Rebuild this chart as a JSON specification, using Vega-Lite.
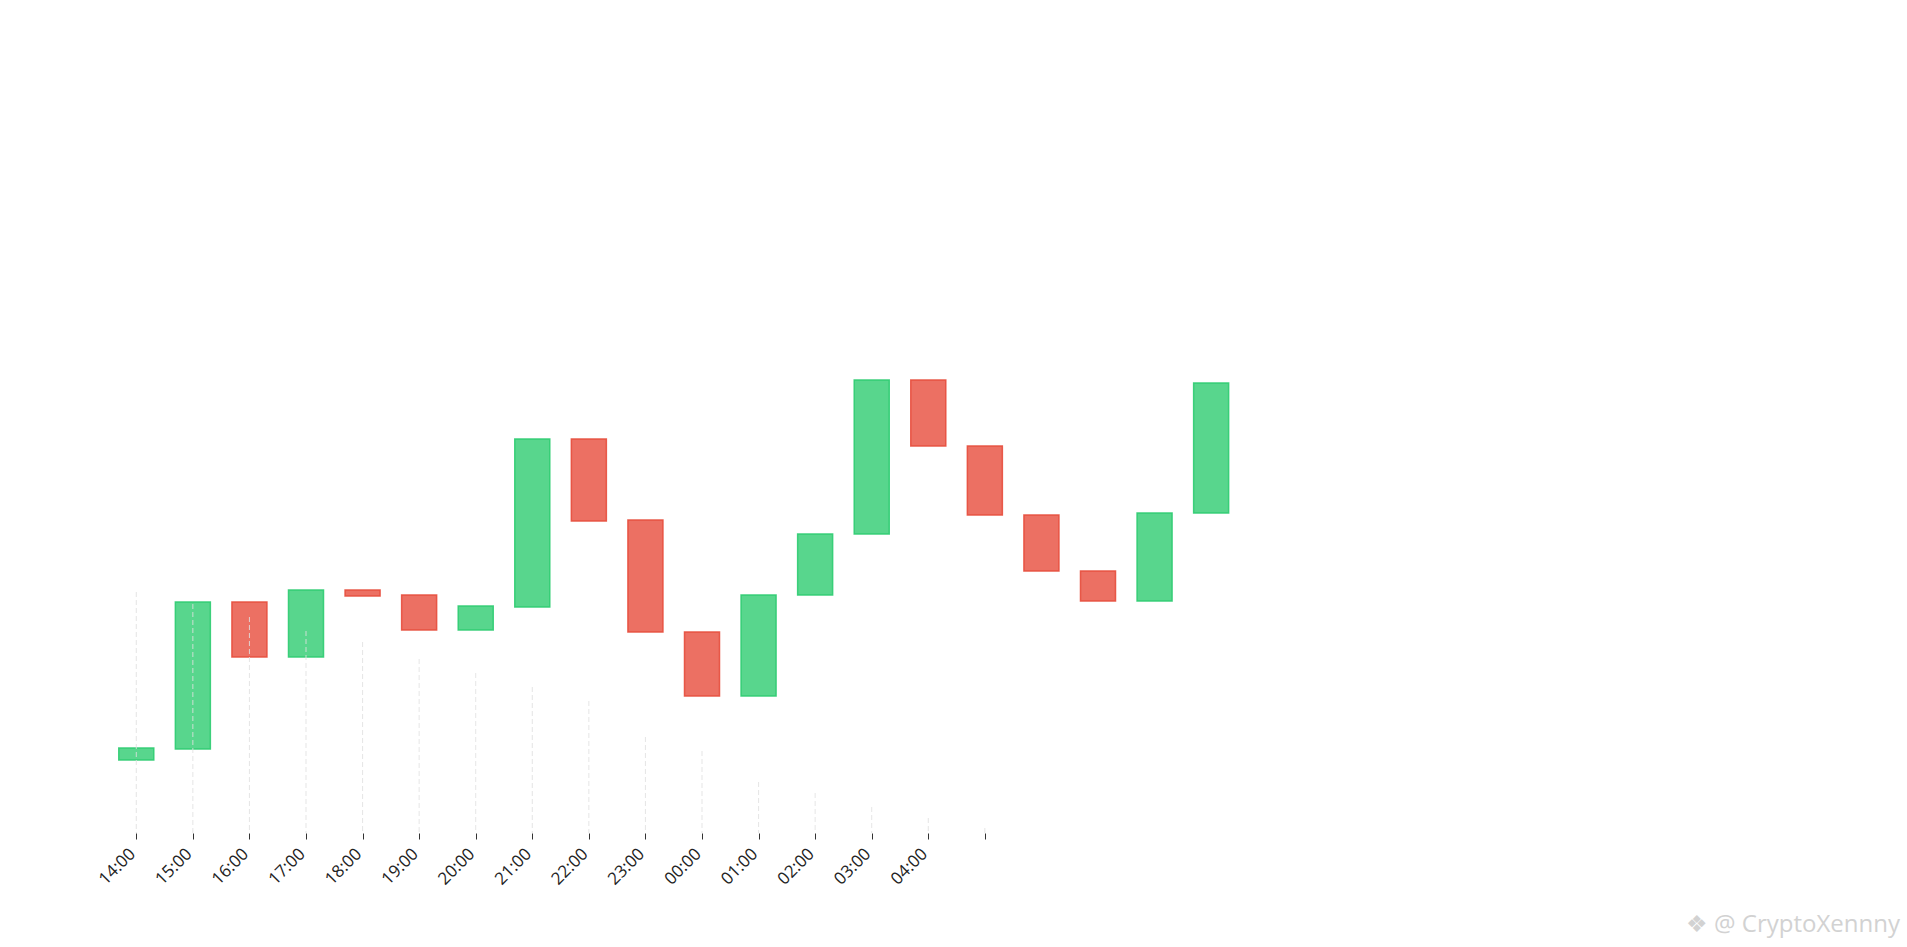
{
  "$schema": "https://vega.github.io/schema/vega-lite/v6.json",
  "width": 1792,
  "height": 833,
  "autosize": {"type": "none"},
  "padding": {"left": 103, "top": 0, "right": 12, "bottom": 114},
  "background": "white",
  "config": {"view": {"stroke": null}},
  "title": {
    "text": "❖ @ CryptoXennny",
    "orient": "bottom",
    "anchor": "end",
    "font": "Open Sans",
    "fontSize": 24,
    "fontWeight": "normal",
    "color": "#d2d2d2",
    "offset": 26,
    "dx": 5
  },
  "datasets": {
    "bars": [
      {"t": "2023-09-01T14:00:00Z", "open": 73, "close": 85},
      {"t": "2023-09-01T15:00:00Z", "open": 84, "close": 231},
      {"t": "2023-09-01T16:00:00Z", "open": 231, "close": 176},
      {"t": "2023-09-01T17:00:00Z", "open": 176, "close": 243},
      {"t": "2023-09-01T18:00:00Z", "open": 243, "close": 237},
      {"t": "2023-09-01T19:00:00Z", "open": 238, "close": 203},
      {"t": "2023-09-01T20:00:00Z", "open": 203, "close": 227},
      {"t": "2023-09-01T21:00:00Z", "open": 226, "close": 394},
      {"t": "2023-09-01T22:00:00Z", "open": 394, "close": 312},
      {"t": "2023-09-01T23:00:00Z", "open": 313, "close": 201},
      {"t": "2023-09-02T00:00:00Z", "open": 201, "close": 137},
      {"t": "2023-09-02T01:00:00Z", "open": 137, "close": 238},
      {"t": "2023-09-02T02:00:00Z", "open": 238, "close": 299},
      {"t": "2023-09-02T03:00:00Z", "open": 299, "close": 453},
      {"t": "2023-09-02T04:00:00Z", "open": 453, "close": 387},
      {"t": "2023-09-02T05:00:00Z", "open": 387, "close": 318},
      {"t": "2023-09-02T06:00:00Z", "open": 318, "close": 262},
      {"t": "2023-09-02T07:00:00Z", "open": 262, "close": 232},
      {"t": "2023-09-02T08:00:00Z", "open": 232, "close": 320},
      {"t": "2023-09-02T09:00:00Z", "open": 320, "close": 450}
    ],
    "grid": [
      {"t": "2023-09-01T14:00:00Z", "top": 241},
      {"t": "2023-09-01T15:00:00Z", "top": 229},
      {"t": "2023-09-01T16:00:00Z", "top": 216},
      {"t": "2023-09-01T17:00:00Z", "top": 202},
      {"t": "2023-09-01T18:00:00Z", "top": 191},
      {"t": "2023-09-01T19:00:00Z", "top": 174},
      {"t": "2023-09-01T20:00:00Z", "top": 160},
      {"t": "2023-09-01T21:00:00Z", "top": 146},
      {"t": "2023-09-01T22:00:00Z", "top": 132},
      {"t": "2023-09-01T23:00:00Z", "top": 96},
      {"t": "2023-09-02T00:00:00Z", "top": 82},
      {"t": "2023-09-02T01:00:00Z", "top": 51},
      {"t": "2023-09-02T02:00:00Z", "top": 40},
      {"t": "2023-09-02T03:00:00Z", "top": 26},
      {"t": "2023-09-02T04:00:00Z", "top": 15},
      {"t": "2023-09-02T05:00:00Z", "top": 5}
    ]
  },
  "layer": [
    {
      "data": {"name": "bars"},
      "mark": {"type": "bar", "width": 35, "fillOpacity": 0.8, "strokeOpacity": 0.9, "strokeWidth": 1.5},
      "encoding": {
        "x": {
          "field": "t",
          "type": "temporal",
          "scale": {
            "type": "utc",
            "domain": [
              {"year": 2023, "month": 9, "date": 1, "hours": 13, "minutes": 30, "utc": true},
              {"year": 2023, "month": 9, "date": 2, "hours": 21, "minutes": 0, "utc": true}
            ]
          },
          "axis": {
            "values": [
              {"year": 2023, "month": 9, "date": 1, "hours": 14, "utc": true},
              {"year": 2023, "month": 9, "date": 1, "hours": 15, "utc": true},
              {"year": 2023, "month": 9, "date": 1, "hours": 16, "utc": true},
              {"year": 2023, "month": 9, "date": 1, "hours": 17, "utc": true},
              {"year": 2023, "month": 9, "date": 1, "hours": 18, "utc": true},
              {"year": 2023, "month": 9, "date": 1, "hours": 19, "utc": true},
              {"year": 2023, "month": 9, "date": 1, "hours": 20, "utc": true},
              {"year": 2023, "month": 9, "date": 1, "hours": 21, "utc": true},
              {"year": 2023, "month": 9, "date": 1, "hours": 22, "utc": true},
              {"year": 2023, "month": 9, "date": 1, "hours": 23, "utc": true},
              {"year": 2023, "month": 9, "date": 2, "hours": 0, "utc": true},
              {"year": 2023, "month": 9, "date": 2, "hours": 1, "utc": true},
              {"year": 2023, "month": 9, "date": 2, "hours": 2, "utc": true},
              {"year": 2023, "month": 9, "date": 2, "hours": 3, "utc": true},
              {"year": 2023, "month": 9, "date": 2, "hours": 4, "utc": true},
              {"year": 2023, "month": 9, "date": 2, "hours": 5, "utc": true}
            ],
            "labelExpr": "utchours(datum.value) == 5 ? '' : utcFormat(datum.value, '%H:%M')",
            "title": null,
            "grid": false,
            "domain": false,
            "ticks": true,
            "tickColor": "#333333",
            "tickSize": 6,
            "tickWidth": 1,
            "labelAngle": -45,
            "labelAlign": "right",
            "labelBaseline": "middle",
            "labelFont": "Open Sans",
            "labelFontSize": 17,
            "labelColor": "#222222",
            "labelPadding": 12,
            "labelOffset": -4,
            "labelOverlap": false,
            "labelFlush": false
          }
        },
        "y": {"field": "open", "type": "quantitative", "scale": {"domain": [0, 833], "nice": false, "zero": false}, "axis": null},
        "y2": {"field": "close"},
        "fill": {"condition": {"test": "datum.close >= datum.open", "value": "#2ECC71"}, "value": "#E74C3C"},
        "stroke": {"condition": {"test": "datum.close >= datum.open", "value": "#2ECC71"}, "value": "#E74C3C"}
      }
    },
    {
      "data": {"name": "grid"},
      "mark": {"type": "rule", "color": "#e0e0e0", "opacity": 0.85, "strokeDash": [5, 3], "strokeWidth": 1},
      "encoding": {
        "x": {"field": "t", "type": "temporal"},
        "y": {"field": "top", "type": "quantitative"},
        "y2": {"datum": 0}
      }
    }
  ]
}
